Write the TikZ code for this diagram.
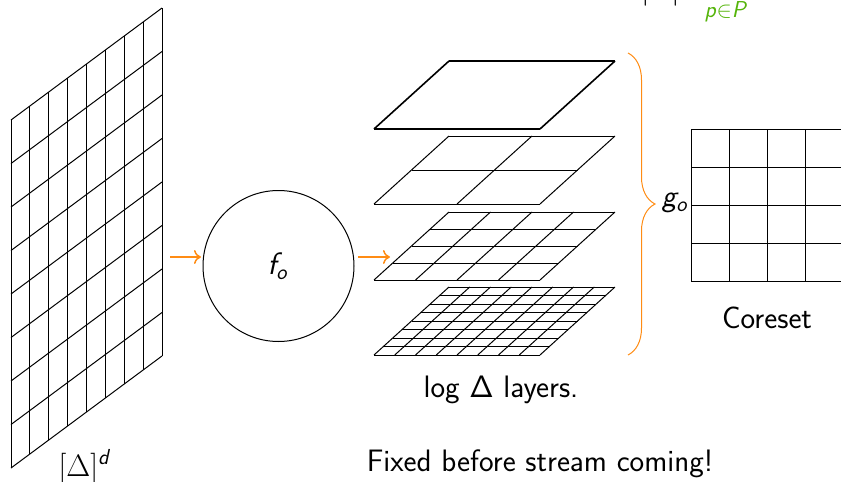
\RequirePackage{fix-cm}
\documentclass[tikz,border=0pt]{standalone}
\usepackage{fontspec}
\usetikzlibrary{decorations.pathreplacing,calc,arrows.meta}
\DeclareSymbolFont{sfup}{OT1}{cmss}{m}{n}
\DeclareMathSymbol{\sfDelta}{\mathalpha}{sfup}{"01}
\DeclareMathSymbol{\sfSigma}{\mathalpha}{sfup}{"06}
\DeclareMathAlphabet{\msfit}{OT1}{cmss}{m}{sl}
\DeclareMathAlphabet{\msfup}{OT1}{cmss}{m}{n}
\definecolor{borange}{RGB}{255,140,20}
\definecolor{bgreen}{RGB}{85,180,10}
\newcommand{\skewgrid}[7]{%
  \foreach \i in {0,...,#7} {
    \draw ({#1+\i/#7*#3},{#2+\i/#7*#4}) -- ++(#5,#6);
    \draw ({#1+\i/#7*#5},{#2+\i/#7*#6}) -- ++(#3,#4);
  }}
\begin{document}
\begin{tikzpicture}[x=1pt,y=-1pt,line width=1pt,
  lbl/.style={font=\sffamily\fontsize{31}{37}\selectfont, inner sep=0pt},
  oarrow/.style={borange,line width=1.5pt,-{To[length=7pt,width=14pt]}},
  obrace/.style={borange,line width=1pt,decorate,decoration={brace,amplitude=27pt,aspect=0.5}}]
\useasboundingbox (0,0) rectangle (841,482);
% top cut-off formula
\node[lbl, anchor=base west] (topf) at (614,-2) {$\msfup{2}\msfit{t}\vert\sfSigma\vert\cdot \msfit{x}$};
\node[font=\sffamily\fontsize{23}{27}\selectfont, inner sep=0pt, anchor=base west, text=bgreen] (topsub) at (704,17) {$\msfit{p}{\in}\msfit{P}$};
% left grid
\skewgrid{11}{468}{151}{-112}{0}{-348}{8}
\node[lbl, anchor=base] (delta) at (85,476) {$[\Delta]^{\msfit{d}}$};
% function circle
\node[circle, draw, minimum size=151pt, inner sep=0pt] (fo) at (278.5,266) {};
\node[lbl] (folbl) at (278,266) {$\msfit{f}_{\msfit{o}}$};
\coordinate (a1s) at (170,257);
\coordinate (a1e) at (201,257);
\coordinate (a2s) at (358,257);
\coordinate (a2e) at (390,257);
\draw[oarrow] (a1s) -- (a1e);
\draw[oarrow] (a2s) -- (a2e);
% layers
\begin{scope}[line width=1.6pt]
\skewgrid{374}{129}{166}{0}{75}{-68}{1}
\end{scope}
\skewgrid{374}{204}{166}{0}{75}{-68}{2}
\skewgrid{374}{280}{166}{0}{75}{-68}{4}
\skewgrid{374}{355}{166}{0}{75}{-68}{8}
\node[lbl] (layers) at (501,390) {log $\sfDelta$ layers.};
% brace
\coordinate (bt) at (628,53);
\coordinate (bb) at (628,355);
\draw[obrace] (bt) -- (bb);
\node[lbl, anchor=east] (go) at (689,203) {$\msfit{g}_{\msfit{o}}$};
% coreset grid
\foreach \i in {0,...,4} {
  \draw (691+38*\i,129) -- (691+38*\i,281);
  \draw (691,129+38*\i) -- (843,129+38*\i);
}
\node[lbl] (core) at (767,318) {Coreset};
\node[lbl] (fixed) at (540,464) {Fixed before stream coming!};
\end{tikzpicture}
\end{document}
